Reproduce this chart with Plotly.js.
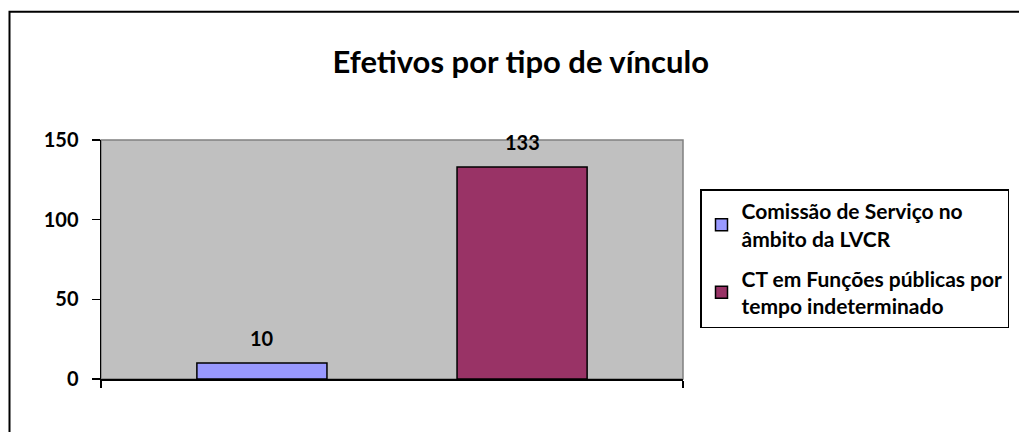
<!DOCTYPE html>
<html>
<head>
<meta charset="utf-8">
<script src="https://cdn.plot.ly/plotly-3.0.1.min.js"></script>
<style>html,body{margin:0;padding:0;background:#fff;}#chart{width:1019px;height:432px;}</style>
</head>
<body>
<div id="chart"></div>
<script>
// Data
const categories = ["Efetivos"];
const seriesNames = [
  "Comissão de Serviço no<br>âmbito da LVCR",
  "CT em Funções públicas por<br>tempo indeterminado"
];
const seriesValues = [[10], [133]];
const seriesColors = ["#9999FF", "#993366"];
const yTicks = [0, 50, 100, 150];
const chartTitle = "Efetivos por tipo de vínculo";

const FONT = "Lato, 'Open Sans', sans-serif";
const W = 1019, H = 432;
const margin = {l: 101, r: 336, t: 139.5, b: 53, autoexpand: false};
const plotW = W - margin.l - margin.r;
const bargap = 0.106;

const traces = seriesNames.map((name, i) => ({
  type: "bar",
  name: name,
  legendgroup: "g" + i,
  x: categories,
  y: seriesValues[i],
  marker: {color: seriesColors[i], line: {color: "#000", width: 1.5}},
  hoverinfo: "none"
}));

const nS = seriesNames.length;
const slot = (1 - bargap) / nS;
const annotations = [];
seriesValues.forEach((vals, i) => {
  vals.forEach((v, j) => {
    annotations.push({
      x: categories[j], y: v, xref: "x", yref: "y",
      text: String(v), showarrow: false,
      xshift: (i - (nS - 1) / 2) * slot * plotW,
      yshift: 25, yanchor: "middle",
      font: {family: FONT, size: 20, color: "#000", weight: 700}
    });
  });
});

const px2x = p => (p - margin.l) / plotW;
const px2y = p => (H - margin.b - p) / (H - margin.t - margin.b);

const layout = {
  width: W, height: H, autosize: false,
  margin: margin,
  paper_bgcolor: "#fff",
  plot_bgcolor: "#C0C0C0",
  barmode: "group",
  bargap: bargap,
  bargroupgap: 0.5,
  showlegend: true,
  title: {
    text: chartTitle, xref: "container", x: 0.511, xanchor: "center",
    yref: "container", y: 1 - 61.7 / H, yanchor: "middle",
    font: {family: FONT, size: 31, color: "#000", weight: 700}
  },
  xaxis: {
    type: "category", showticklabels: false, showgrid: false, zeroline: false,
    showline: true, linecolor: "#000", linewidth: 1.5,
    ticks: "outside", tickson: "boundaries", ticklen: 7, tickcolor: "#000", tickwidth: 1.5
  },
  yaxis: {
    range: [0, 150], tickvals: yTicks, ticktext: yTicks.map(String),
    showgrid: false, zeroline: false,
    showline: true, linecolor: "#000", linewidth: 1.5,
    ticks: "outside", ticklen: 8, tickcolor: "#000", tickwidth: 1.5,
    ticklabelstandoff: 9,
    tickfont: {family: FONT, size: 20, color: "#000", weight: 700}
  },
  legend: {
    x: px2x(700), xref: "paper", xanchor: "left",
    y: px2y(189), yref: "paper", yanchor: "top",
    bgcolor: "#fff", bordercolor: "#000", borderwidth: 1.5,
    font: {family: FONT, size: 21, color: "#000", weight: 700},
    traceorder: "grouped", tracegroupgap: 10, itemclick: false
  },
  shapes: [
    {type: "rect", xref: "paper", yref: "paper", x0: 0, x1: 1, y0: 0, y1: 1,
     line: {color: "#808080", width: 1.5}, layer: "below"},
    {type: "rect", xref: "paper", yref: "paper",
     x0: px2x(9.5), x1: px2x(1030), y0: px2y(11), y1: px2y(445),
     line: {color: "#000", width: 2}, layer: "below"}
  ],
  annotations: annotations
};

Plotly.newPlot("chart", traces, layout, {displayModeBar: false, staticPlot: true});
</script>
</body>
</html>
